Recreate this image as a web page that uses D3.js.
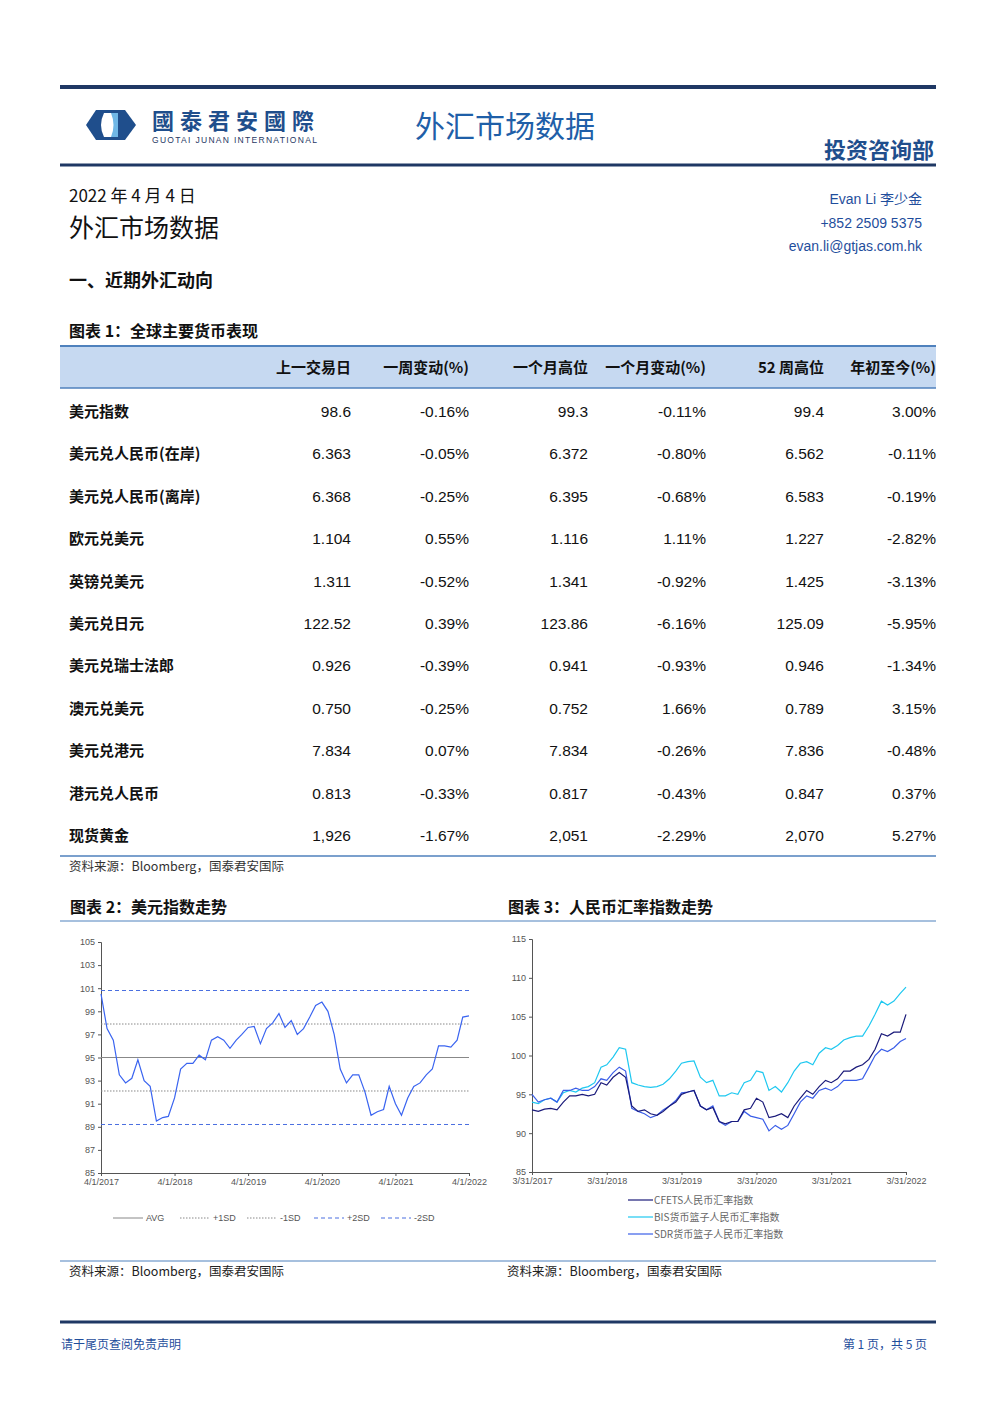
<!DOCTYPE html>
<html><head><meta charset="utf-8">
<script src="https://cdn.jsdelivr.net/npm/d3@7"></script>
<style>body{margin:0;background:#fff}svg{display:block;font-family:"Liberation Sans","Noto Sans CJK SC",sans-serif}</style>
</head><body>
<svg id="page" width="992" height="1403"></svg>
<script>
// table 1
var rowNames = ["美元指数","美元兑人民币(在岸)","美元兑人民币(离岸)","欧元兑美元","英镑兑美元","美元兑日元","美元兑瑞士法郎","澳元兑美元","美元兑港元","港元兑人民币","现货黄金"];
var colNames = ["上一交易日","一周变动(%)","一个月高位","一个月变动(%)","52 周高位","年初至今(%)"];
var lastClose = ["98.6","6.363","6.368","1.104","1.311","122.52","0.926","0.750","7.834","0.813","1,926"];
var weekChg = ["-0.16%","-0.05%","-0.25%","0.55%","-0.52%","0.39%","-0.39%","-0.25%","0.07%","-0.33%","-1.67%"];
var monthHigh = ["99.3","6.372","6.395","1.116","1.341","123.86","0.941","0.752","7.834","0.817","2,051"];
var monthChg = ["-0.11%","-0.80%","-0.68%","1.11%","-0.92%","-6.16%","-0.93%","1.66%","-0.26%","-0.43%","-2.29%"];
var high52 = ["99.4","6.562","6.583","1.227","1.425","125.09","0.946","0.789","7.836","0.847","2,070"];
var ytd = ["3.00%","-0.11%","-0.19%","-2.82%","-3.13%","-5.95%","-1.34%","3.15%","-0.48%","0.37%","5.27%"];

// chart 2: dollar index, monthly from Apr 2017
var dxy = [100.5,97.5,96.5,93.5,92.8,93.2,94.8,93.0,92.5,89.5,89.8,89.9,91.5,94.0,94.5,94.5,95.2,94.8,96.5,96.8,96.5,95.8,96.5,97.0,97.6,97.7,96.2,97.5,98.0,98.8,97.6,98.2,97.0,97.5,98.5,99.5,99.8,99.0,97.0,94.0,92.8,93.5,93.5,92.0,90.0,90.3,90.5,92.5,91.0,90.0,91.5,92.5,92.8,93.5,94.0,96.0,96.0,95.9,96.5,98.5,98.6];
var dxyStart = "2017-04-01";
var dxyLevels = [["AVG",95.0],["+1SD",97.9],["-1SD",92.1],["+2SD",100.8],["-2SD",89.2]];

// chart 3: RMB indices, monthly from Mar 2017
var cfets = [93.0,92.8,93.1,93.2,93.0,94.0,94.8,94.8,95.0,94.8,95.0,96.5,96.2,97.2,97.8,97.2,93.5,92.8,93.0,92.5,92.3,92.8,93.5,94.0,95.0,95.3,95.5,93.5,93.0,93.3,91.5,91.2,91.5,91.5,93.0,93.2,94.5,94.0,92.0,92.2,92.5,92.0,93.5,94.5,95.5,95.0,96.0,96.8,96.5,97.0,98.0,98.0,98.5,98.8,99.5,100.8,102.8,102.5,103.0,103.0,105.3];
var bis = [94.0,93.8,94.3,94.5,94.0,95.2,95.5,95.3,95.8,96.0,96.5,98.5,98.8,99.8,101.0,100.8,96.5,96.2,96.0,95.9,96.0,96.3,97.0,98.0,99.0,99.2,99.3,97.2,96.5,96.8,94.8,94.8,95.2,95.0,96.5,96.8,98.0,97.8,95.5,96.0,95.3,96.5,98.0,99.0,99.2,98.8,100.3,101.0,100.8,101.3,102.0,102.3,102.5,102.5,103.8,105.3,107.0,106.5,107.0,108.0,108.8];
var sdr = [95.0,94.0,94.3,94.5,94.0,95.5,95.5,95.8,95.5,95.5,96.0,97.0,96.8,97.8,98.5,98.0,93.2,92.8,92.5,92.0,92.3,93.0,93.5,94.2,95.2,95.3,95.5,93.5,93.0,93.5,91.5,91.0,91.5,91.5,92.8,92.2,92.0,91.8,90.3,91.0,90.5,91.0,92.5,94.0,94.8,94.5,95.5,95.8,95.5,96.0,96.8,96.8,96.8,97.0,98.5,100.0,100.8,100.5,101.0,101.8,102.2];
var rmbStart = "2017-03-31";
var rmbNames = ["CFETS人民币汇率指数","BIS货币篮子人民币汇率指数","SDR货币篮子人民币汇率指数"];
var rmbColors = ["#1a1a7a","#1ec8f0","#3a5ee8"];

var navy = "#1f3864", blue = "#1f4e9c";
var svg = d3.select("#page");
function txt(x,y,s,o){o=o||{};return svg.append("text").attr("x",x).attr("y",y).text(s)
  .attr("font-size",o.size||14).attr("fill",o.fill||"#111").attr("text-anchor",o.anchor||"start")
  .attr("font-weight",o.bold?"bold":null).attr("font-family",o.cjk?'"Noto Sans CJK SC",sans-serif':null);}
function hline(x1,x2,y,w,c){svg.append("line").attr("x1",x1).attr("x2",x2).attr("y1",y).attr("y2",y).attr("stroke",c).attr("stroke-width",w);}

// header
hline(60,936,87,4,navy); hline(60,936,165,3,navy);
svg.append("path").attr("d","M86,125 L96,110 L125,110 L136,125 L125,140 L96,140 Z").attr("fill","#1f4e8c");
svg.append("path").attr("d","M104,113 L118,113 L118,137 L104,137 Q98,125 104,113Z").attr("fill","#fff");
svg.append("path").attr("d","M111,113 L118,113 L118,137 L111,137 Q116,125 111,113Z").attr("fill","#6fb7e6");
txt(152,129,"國泰君安國際",{size:22,fill:"#1f4e8c",bold:true,cjk:true}).attr("letter-spacing",6);
txt(152,143,"GUOTAI JUNAN INTERNATIONAL",{size:8.5,fill:"#1f3864"}).attr("letter-spacing",1.3);
txt(415,137,"外汇市场数据",{size:30,fill:"#1f5fa8",cjk:true});
txt(934,158,"投资咨询部",{size:22,fill:"#1f4e8c",anchor:"end",bold:true,cjk:true});

txt(69,202,"2022 年 4 月 4 日",{size:17,cjk:true});
txt(69,237,"外汇市场数据",{size:25,cjk:true});
txt(922,204,"Evan Li  李少金",{size:14,fill:blue,anchor:"end"});
txt(922,228,"+852 2509 5375",{size:14,fill:blue,anchor:"end"});
txt(922,251,"evan.li@gtjas.com.hk",{size:14,fill:blue,anchor:"end"});
txt(69,287,"一、近期外汇动向",{size:18,bold:true,cjk:true});
txt(69,337,"图表 1：全球主要货币表现",{size:16,bold:true,cjk:true});

// table
svg.append("rect").attr("x",60).attr("y",346).attr("width",876).attr("height",42).attr("fill","#c6d9f1");
hline(60,936,346,2,"#4f81bd"); hline(60,936,388,1.5,"#4f81bd"); hline(60,936,856,1.5,"#4f81bd");
var colX = [351,469,588,706,824,936];
colX.forEach(function(x,i){txt(x,373,colNames[i],{size:15,anchor:"end",bold:true,cjk:true});});
var cols = [lastClose,weekChg,monthHigh,monthChg,high52,ytd];
var rowY = d3.scaleLinear().domain([0,10]).range([411,835]);
rowNames.forEach(function(n,r){
  txt(69,rowY(r)+6,n,{size:15,bold:true,cjk:true});
  cols.forEach(function(c,j){txt(colX[j],rowY(r)+6,c[r],{size:15.5,anchor:"end"});});
});
txt(69,871,"资料来源：Bloomberg，国泰君安国际",{size:12.5,fill:"#333",cjk:true});

txt(70,913,"图表 2：美元指数走势",{size:16,bold:true,cjk:true});
txt(508,913,"图表 3：人民币汇率指数走势",{size:16,bold:true,cjk:true});
hline(60,936,921,1,"#4f81bd");

// chart 2
(function(){
  var t0 = d3.isoParse(dxyStart);
  var pts = dxy.map(function(v,i){return {d:d3.timeMonth.offset(t0,i),v:v};});
  var x = d3.scaleTime().domain([t0,d3.isoParse("2022-04-01")]).range([101,469]);
  var y = d3.scaleLinear().domain([85,105]).range([1173,942]);
  var g = svg.append("g").attr("font-size",9).attr("fill","#555");
  var ya = g.append("g").attr("transform","translate(101,0)").call(d3.axisLeft(y).tickValues(d3.range(85,106,2)).tickSize(3));
  var xa = g.append("g").attr("transform","translate(0,1173)").call(d3.axisBottom(x).tickValues(d3.range(0,6).map(function(k){return d3.timeYear.offset(t0,k);})).tickFormat(d3.timeFormat("%-m/%-d/%Y")).tickSize(3));
  [ya,xa].forEach(function(a){a.selectAll("path,line").attr("stroke","#555");a.selectAll("text").attr("fill","#555").attr("font-size",9);});
  var dash = {"AVG":null,"+1SD":"1.5,1.5","-1SD":"1.5,1.5","+2SD":"4,3","-2SD":"4,3"};
  var col = {"AVG":"#888","+1SD":"#888","-1SD":"#888","+2SD":"#4a6fe0","-2SD":"#4a6fe0"};
  dxyLevels.forEach(function(l){
    svg.append("line").attr("x1",101).attr("x2",469).attr("y1",y(l[1])).attr("y2",y(l[1])).attr("stroke",col[l[0]]).attr("stroke-width",1).attr("stroke-dasharray",dash[l[0]]);
  });
  svg.append("path").datum(pts).attr("fill","none").attr("stroke","#3a64f0").attr("stroke-width",1.2)
    .attr("d",d3.line().x(function(p){return x(p.d);}).y(function(p){return y(p.v);}));
  dxyLevels.forEach(function(l,i){
    var lx = 113+i*67;
    svg.append("line").attr("x1",lx).attr("x2",lx+30).attr("y1",1218).attr("y2",1218).attr("stroke",col[l[0]]).attr("stroke-dasharray",dash[l[0]]);
    txt(lx+33,1221,l[0],{size:9,fill:"#555"});
  });
})();

// chart 3
(function(){
  var t0 = d3.isoParse(rmbStart);
  var x = d3.scaleTime().domain([t0,d3.isoParse("2022-03-31")]).range([532,906]);
  var y = d3.scaleLinear().domain([85,115]).range([1172,939]);
  var ya = svg.append("g").attr("transform","translate(532,0)").call(d3.axisLeft(y).tickValues(d3.range(85,116,5)).tickSize(3));
  var xa = svg.append("g").attr("transform","translate(0,1172)").call(d3.axisBottom(x).tickValues(d3.range(0,6).map(function(k){return d3.timeYear.offset(t0,k);})).tickFormat(d3.timeFormat("%-m/%-d/%Y")).tickSize(3));
  [ya,xa].forEach(function(a){a.selectAll("path,line").attr("stroke","#555");a.selectAll("text").attr("fill","#555").attr("font-size",9);});
  var line = d3.line().x(function(v,i){return x(d3.timeMonth.offset(t0,i));}).y(function(v){return y(v);});
  [bis,sdr,cfets].forEach(function(s){
    var c = s===cfets?rmbColors[0]:s===bis?rmbColors[1]:rmbColors[2];
    svg.append("path").datum(s).attr("fill","none").attr("stroke",c).attr("stroke-width",1.2).attr("d",line);
  });
  rmbNames.forEach(function(n,i){
    var ly = 1200+i*17;
    svg.append("line").attr("x1",628).attr("x2",653).attr("y1",ly).attr("y2",ly).attr("stroke",rmbColors[i]).attr("stroke-width",1.2);
    txt(654,ly+4,n,{size:10,fill:"#666",cjk:true});
  });
})();

hline(60,936,1261,1,"#4f81bd");
txt(69,1276,"资料来源：Bloomberg，国泰君安国际",{size:12.5,fill:"#222",cjk:true});
txt(507,1276,"资料来源：Bloomberg，国泰君安国际",{size:12.5,fill:"#222",cjk:true});
hline(60,936,1322,3,navy);
txt(61,1349,"请于尾页查阅免责声明",{size:12,fill:blue,cjk:true});
txt(927,1349,"第 1 页，共 5 页",{size:12,fill:blue,anchor:"end",cjk:true});
</script>
</body></html>
